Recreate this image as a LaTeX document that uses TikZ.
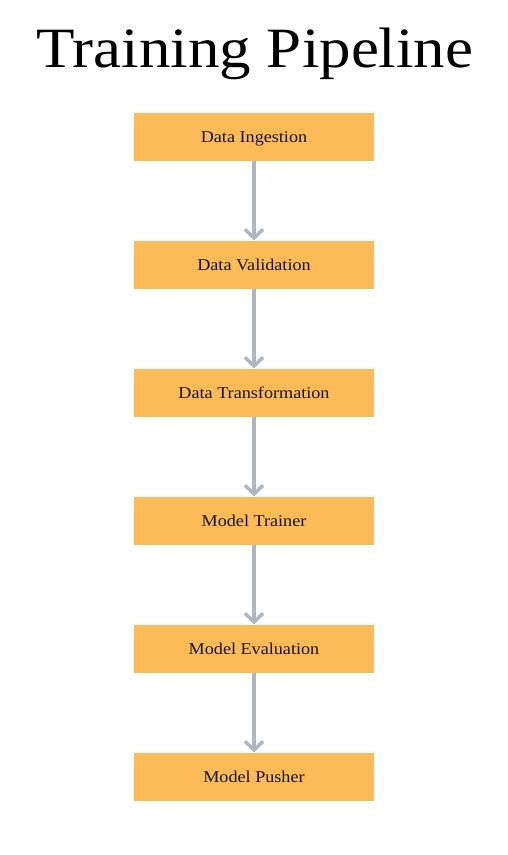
\documentclass[tikz,border=0pt]{standalone}
\usepackage{fontspec}
\setmainfont{Liberation Serif}
\usetikzlibrary{arrows.meta}
\definecolor{boxfill}{HTML}{FDBB57}
\definecolor{arrowgray}{HTML}{ABB8C3}
\definecolor{txt}{HTML}{141414}
\tikzset{
  stagebox/.style={fill=boxfill, draw=none, minimum width=240pt, minimum height=48pt, inner sep=0pt},
  stagetext/.style={anchor=base, inner sep=0pt, text=txt, font=\fontsize{16.5}{18}\selectfont},
  flowarrow/.style={draw=arrowgray, line width=3.5pt, -{Straight Barb[length=8.5pt,width=18pt]}, shorten >=0.5pt},
}
\newcommand{\wid}[1]{\scalebox{1.1}[1]{#1}}
\begin{document}
\begin{tikzpicture}[x=1pt,y=-1pt]
\useasboundingbox (0,0) rectangle (507,855);
\fill[white] (0,0) rectangle (507,855);
\node[anchor=base, inner sep=0pt, font=\fontsize{57}{60}\selectfont] (title) at (255,67) {\scalebox{1.105}[1]{Training Pipeline}};
\node[stagebox] (n1) at (254,137) {};
\node[stagebox] (n2) at (254,265) {};
\node[stagebox] (n3) at (254,393) {};
\node[stagebox] (n4) at (254,521) {};
\node[stagebox] (n5) at (254,649) {};
\node[stagebox] (n6) at (254,777) {};
\node[stagetext] (t1) at (254,142.5) {\wid{Data Ingestion}};
\node[stagetext] (t2) at (254,270.5) {\wid{Data Validation}};
\node[stagetext] (t3) at (254,398.5) {\wid{Data Transformation}};
\node[stagetext] (t4) at (254,526.5) {\wid{Model Trainer}};
\node[stagetext] (t5) at (254,654.5) {\wid{Model Evaluation}};
\node[stagetext] (t6) at (254,782.5) {\wid{Model Pusher}};
\draw[flowarrow] (n1.south) -- (n2.north);
\draw[flowarrow] (n2.south) -- (n3.north);
\draw[flowarrow] (n3.south) -- (n4.north);
\draw[flowarrow] (n4.south) -- (n5.north);
\draw[flowarrow] (n5.south) -- (n6.north);
\end{tikzpicture}
\end{document}
